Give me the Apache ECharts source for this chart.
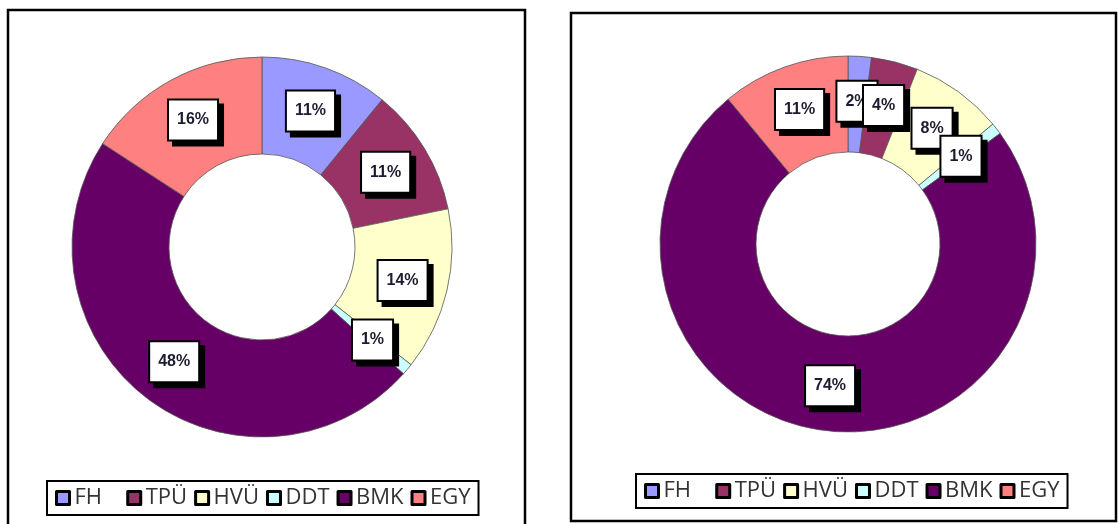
<!DOCTYPE html>
<html>
<head>
<meta charset="utf-8">
<script src="https://cdn.jsdelivr.net/npm/echarts@6/dist/echarts.min.js"></script>
<style>
  html, body { margin: 0; padding: 0; background: #fff; }
  #main { width: 1118px; height: 524px; }
</style>
</head>
<body>
<div id="main"></div>
<script>
var categories = ['FH', 'TPÜ', 'HVÜ', 'DDT', 'BMK', 'EGY'];
var leftValues = [11, 11, 14, 1, 48, 16];
var rightValues = [2, 4, 8, 1, 74, 11];
var colors = ['#9999FF', '#993366', '#FFFFCC', '#CCFFFF', '#660066', '#FF8080'];

var chart = echarts.init(document.getElementById('main'));

function pieData(values) {
  return categories.map(function (name, i) {
    return { name: name, value: values[i] };
  });
}

var labelStyle = {
  show: true,
  position: 'inside',
  formatter: '{c}%',
  fontFamily: 'Liberation Sans',
  fontWeight: 'bold',
  fontSize: 16,
  color: '#1c1c30',
  backgroundColor: '#fff',
  borderColor: '#000',
  borderWidth: 2,
  padding: [12, 8, 11, 8],
  shadowColor: '#000',
  shadowOffsetX: 5,
  shadowOffsetY: 5,
  shadowBlur: 0
};

function legendFor(x, top) {
  return {
    left: x,
    top: top,
    orient: 'horizontal',
    data: categories,
    icon: 'rect',
    itemWidth: 13,
    itemHeight: 13,
    itemGap: 7,
    backgroundColor: '#fff',
    borderColor: '#000',
    borderWidth: 2,
    padding: [6, 8, 6, 8],
    selectedMode: false,
    itemStyle: { borderColor: '#000', borderWidth: 3 },
    textStyle: {
      fontFamily: 'Open Sans',
      fontSize: 22,
      color: '#333'
    },
    formatter: function (name) {
      return name === 'FH' ? name + '   ' : name;
    }
  };
}

var option = {
  animation: false,
  color: colors,
  graphic: [
    { type: 'rect', shape: { x: 8, y: 10, width: 517, height: 530 },
      style: { fill: 'none', stroke: '#000', lineWidth: 2.5 }, z: -1 },
    { type: 'rect', shape: { x: 571, y: 13, width: 545, height: 508 },
      style: { fill: 'none', stroke: '#000', lineWidth: 2.5 }, z: -1 }
  ],
  legend: [legendFor(47, 481), legendFor(636, 474)],
  series: [
    {
      type: 'pie',
      center: [262, 247],
      radius: [93, 190],
      startAngle: 90,
      clockwise: true,
      avoidLabelOverlap: false,
      labelLayout: { hideOverlap: false },
      itemStyle: { borderColor: '#555', borderWidth: 0.8 },
      label: labelStyle,
      labelLine: { show: false },
      emphasis: { disabled: true },
      data: pieData(leftValues)
    },
    {
      type: 'pie',
      center: [848, 244],
      radius: [92, 188],
      startAngle: 90,
      clockwise: true,
      avoidLabelOverlap: false,
      labelLayout: { hideOverlap: false },
      itemStyle: { borderColor: '#555', borderWidth: 0.8 },
      label: labelStyle,
      labelLine: { show: false },
      emphasis: { disabled: true },
      data: pieData(rightValues)
    }
  ]
};

chart.setOption(option);
</script>
</body>
</html>
